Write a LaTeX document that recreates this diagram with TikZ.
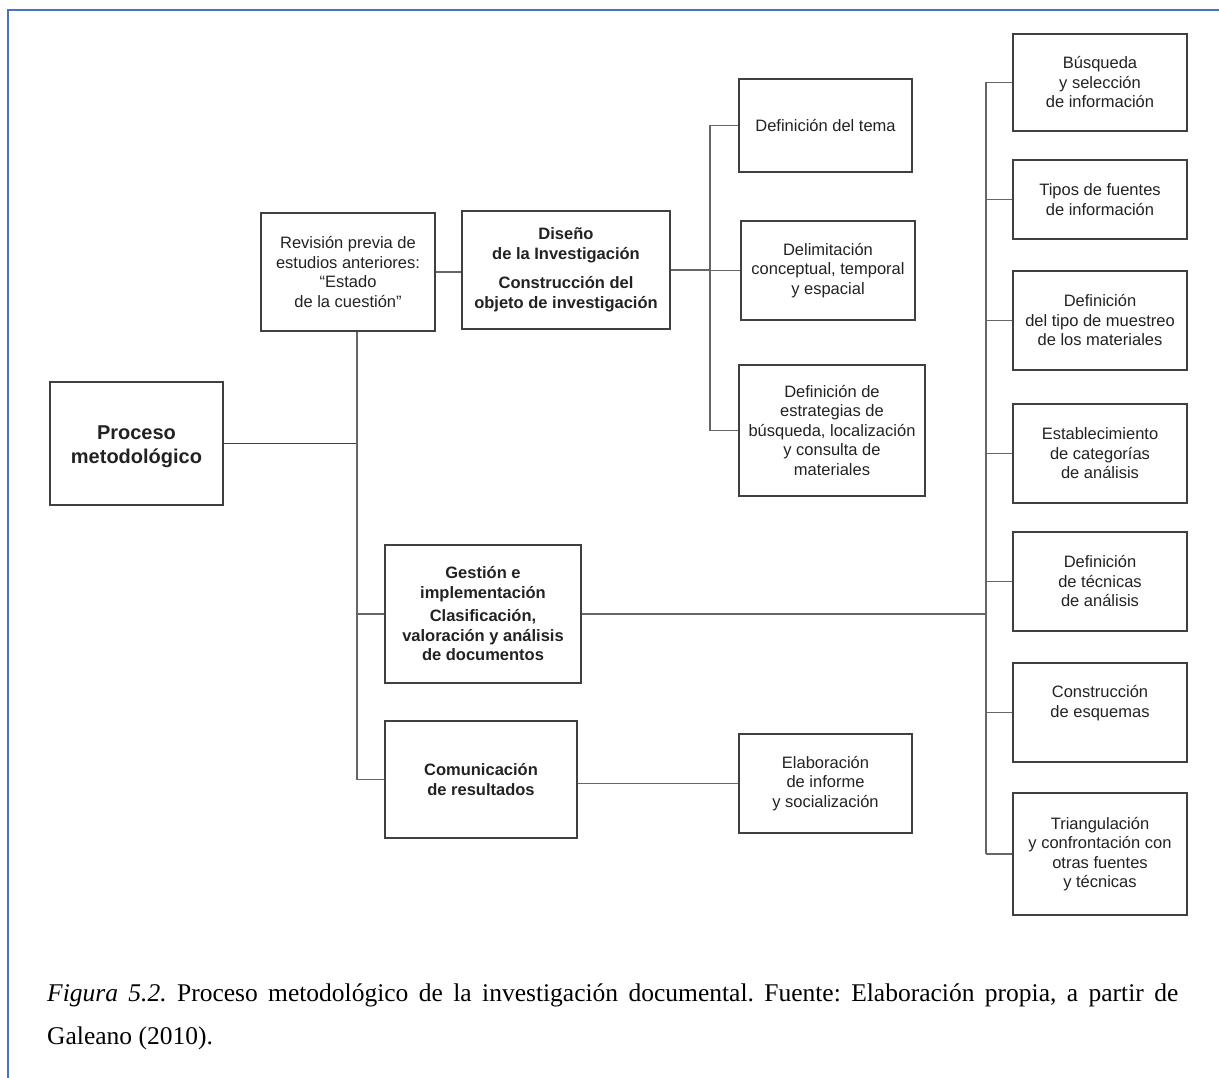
\documentclass[tikz,border=0pt]{standalone}
\usepackage{fontspec}
\setmainfont{Liberation Serif}
\setsansfont{Liberation Sans}
\usetikzlibrary{positioning}

\definecolor{framecol}{HTML}{4A72C0}
\definecolor{inkcol}{HTML}{222222}

\begin{document}
\begin{tikzpicture}[
  x=1pt, y=-1pt,
  box/.style={draw=black!75, line width=1.2pt, inner sep=0pt, align=center, text=inkcol,
    font=\sffamily\fontsize{16.5}{19.5}\selectfont},
  bbox/.style={box, font=\sffamily\bfseries\fontsize{16.5}{19.5}\selectfont},
  link/.style={draw=black!60, line width=1.1pt},
  capt/.style={anchor=base west, inner sep=0pt, text=black, font=\fontsize{25.5}{43}\selectfont}
]
\useasboundingbox (0,0) rectangle (1219,1078);
\draw[framecol, line width=1.3pt] (8,1078) -- (8,10) -- (1219,10);

% main column
\node[bbox, line width=2pt, minimum width=173pt, minimum height=123pt,
  font=\sffamily\bfseries\fontsize{20}{24}\selectfont] (proc) at (136.5,443.5) {\\[-3pt]Proceso\\metodológico};
\node[box, minimum width=174pt, minimum height=118pt] (rev) at (348,272) {Revisión previa de\\estudios anteriores:\\“Estado\\de la cuestión”};
\node[bbox, minimum width=208pt, minimum height=118pt] (dis) at (566,270) {Diseño\\de la Investigación\\[10pt]Construcción del\\objeto de investigación};
\node[bbox, minimum width=196pt, minimum height=138pt] (gest) at (483,614) {Gestión e\\implementación\\[4pt]Clasificación,\\valoración y análisis\\de documentos};
\node[bbox, minimum width=192pt, minimum height=117pt] (comu) at (481,779.5) {Comunicación\\de resultados};

% design branch
\node[box, minimum width=173pt, minimum height=93pt] (tema) at (825.5,125.5) {Definición del tema};
\node[box, minimum width=174pt, minimum height=99pt] (delim) at (828,270.5) {Delimitación\\conceptual, temporal\\y espacial};
\node[box, minimum width=186pt, minimum height=131pt] (estrat) at (832,430.5) {Definición de\\estrategias de\\búsqueda, localización\\y consulta de\\materiales};
\node[box, minimum width=173pt, minimum height=99pt] (elab) at (825.5,783.5) {Elaboración\\de informe\\y socialización};

% right column
\node[box, minimum width=174pt, minimum height=97pt] (busq) at (1100,82.5) {Búsqueda\\y selección\\de información};
\node[box, minimum width=174pt, minimum height=79pt] (tipos) at (1100,199.5) {Tipos de fuentes\\de información};
\node[box, minimum width=174pt, minimum height=99pt] (muest) at (1100,320.5) {Definición\\del tipo de muestreo\\de los materiales};
\node[box, minimum width=174pt, minimum height=99pt] (categ) at (1100,453.5) {Establecimiento\\de categorías\\de análisis};
\node[box, minimum width=174pt, minimum height=99pt] (tecn) at (1100,581.5) {Definición\\de técnicas\\de análisis};
\node[box, minimum width=174pt, minimum height=99pt] (esq) at (1100,712.5) {Construcción\\de esquemas\\[3pt]};
\node[box, minimum width=174pt, minimum height=122pt] (triang) at (1100,854) {Triangulación\\y confrontación con\\otras fuentes\\y técnicas};

% connectors
\coordinate (tk) at (357,0);
\coordinate (fa) at (710,0);
\coordinate (fb) at (986,0);

\draw[link, black!75] (proc.east) -- (tk |- proc.east);
\draw[link] (tk |- rev.south) -- (tk |- comu.west);
\draw[link] (gest.west) -- (tk |- gest.west);
\draw[link] (comu.west) -- (tk |- comu.west);
\draw[link] (rev.east) -- (rev.east -| dis.west);

\draw[link] (dis.east) -- (fa |- dis.east);
\draw[link] (fa |- tema.west) -- (fa |- estrat.west);
\foreach \n in {tema, delim, estrat}
  \draw[link] (\n.west) -- (fa |- \n.west);

\draw[link] (gest.east) -- (fb |- gest.east);
\draw[link] (fb |- busq.west) -- (fb |- triang.west);
\foreach \n in {busq, tipos, muest, categ, tecn, esq, triang}
  \draw[link] (\n.west) -- (fb |- \n.west);

\draw[link] (comu.east |- elab.west) -- (elab.west);

% caption
\node[capt] (cap1) at (47,1001) {\frenchspacing\makebox[1131pt][s]{\textit{Figura 5.2.} Proceso metodológico de la investigación documental. Fuente: Elaboración propia, a partir de}};
\node[capt] (cap2) at (47,1044) {Galeano (2010).};
\end{tikzpicture}
\end{document}
